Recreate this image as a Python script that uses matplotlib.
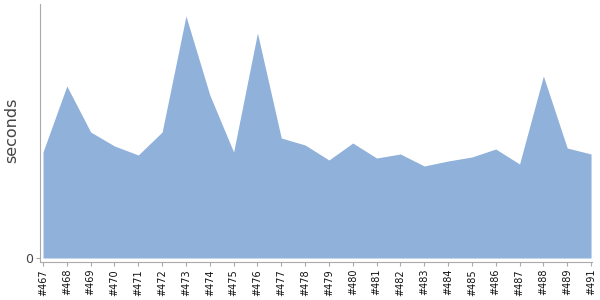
import matplotlib
matplotlib.use("Agg")
import matplotlib.pyplot as plt
import numpy as np

builds = ["#467", "#468", "#469", "#470", "#471", "#472", "#473", "#474",
          "#475", "#476", "#477", "#478", "#479", "#480", "#481", "#482",
          "#483", "#484", "#485", "#486", "#487", "#488", "#489", "#491"]
seconds = [106, 172, 126, 112, 103, 126, 242, 163,
           106, 225, 120, 113, 98, 115, 100, 104,
           92, 97, 101, 109, 94, 182, 110, 104]

fill_color = "#8fb1da"
axis_color = "#aaaaaa"

fig = plt.figure(figsize=(6, 3), dpi=100)
ax = fig.add_axes([40 / 600, 38 / 300, 552 / 600, 258 / 300])

x = np.arange(len(builds))
ax.fill_between(x, 0, seconds, color=fill_color, linewidth=0)

ax.set_xlim(-0.126, len(builds) - 1 + 0.04)
ax.set_ylim(-4, 254)

ax.set_xticks(x)
ax.set_xticklabels(builds, rotation=90, fontsize=7, color="#111111")
ax.set_yticks([0])
ax.set_yticklabels(["0"], fontsize=9, color="#444444")
ax.tick_params(axis="both", color=axis_color, length=3, width=0.8, pad=2)

for side in ["top", "right"]:
    ax.spines[side].set_visible(False)
for side in ["left", "bottom"]:
    ax.spines[side].set_color(axis_color)
    ax.spines[side].set_linewidth(0.8)

ax.set_ylabel("seconds", fontsize=11.5, color="#444444", va="center")
ax.yaxis.set_label_coords(-0.051, 0.51)

fig.savefig("out.png", dpi=100)
